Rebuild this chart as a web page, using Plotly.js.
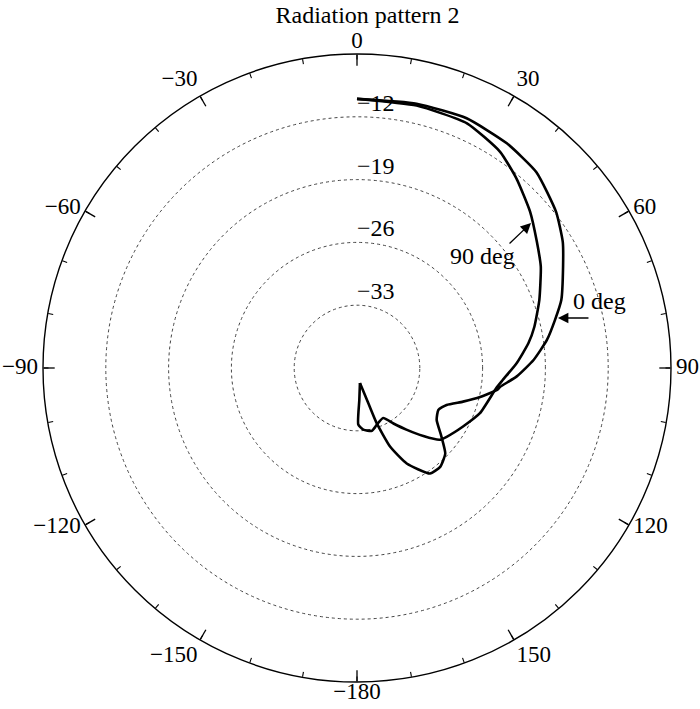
<!DOCTYPE html>
<html>
<head>
<meta charset="utf-8">
<script src="https://cdn.plot.ly/plotly-3.0.1.min.js"></script>
<style>html,body{margin:0;padding:0;background:#fff;}#chart{width:700px;height:709px;}</style>
</head>
<body>
<div id="chart"></div>
<script>
// ---- data ----
const theta0deg = [0, 12.7, 23.7, 33.7, 42.5, 51.9, 58.5, 63.8, 71.6, 76.4, 81.6, 87.4, 93.1, 97.5, 98.9, 103.3, 107.6, 112.4, 117.3, 123.1, 129.0, 134.1, 139.9, 145.3, 152.5, 157.2, 160.4, 162.2, 168.9];
const r0deg     = [-10.0, -9.8, -9.6, -9.9, -10.4, -11.8, -13.1, -14.4, -16.0, -17.3, -18.6, -20.3, -22.2, -23.9, -24.2, -25.9, -27.6, -29.2, -29.8, -29.4, -27.9, -26.3, -25.6, -25.7, -28.0, -30.5, -33.5, -35.9, -38.3];

const theta90deg = [0, 12.8, 24.2, 33.5, 40.1, 47.9, 54.9, 61.1, 69.5, 76.9, 81.8, 88.3, 94.7, 98.1, 110.2, 118.9, 127.5, 131.0, 135.7, 141.3, 146.7, 152.4, 160.9, 166.8, 174.2, 178.7, 175.9, 168.9];
const r90deg     = [-10.0, -10.0, -10.1, -11.1, -12.4, -14.0, -15.5, -16.6, -18.3, -19.7, -20.7, -22.2, -23.7, -24.3, -25.4, -26.5, -27.4, -27.8, -29.4, -31.2, -32.6, -33.7, -33.3, -32.8, -33.1, -33.7, -36.4, -38.3];

const radialRange = [-40, -5];
const ringValues  = [-33, -26, -19, -12];
const ringLabels  = ['\u221233', '\u221226', '\u221219', '\u221212'];

const angleTickVals  = [0, 30, 60, 90, 120, 150, 180, 210, 240, 270, 300, 330];
const angleTickText  = ['0', '30', '60', '90', '120', '150', '\u2212180', '\u2212150', '\u2212120', '\u221290', '\u221260', '\u221230'];
const minorTickVals  = [0,10,20,30,40,50,60,70,80,90,100,110,120,130,140,150,160,170,180,190,200,210,220,230,240,250,260,270,280,290,300,310,320,330,340,350];

const FONT = 'Liberation Serif, Times New Roman, serif';
const FS = 24;
const TICK_FS = 23;

const angleLabelPos = ['top center', 'top right', 'middle right', 'middle right', 'middle right', 'bottom right',
                       'bottom center', 'bottom left', 'middle left', 'middle left', 'middle left', 'top left'];
// label ring (polar3) is slightly larger than the plot ring; straight up/down labels pulled back onto the ring
const angleLabelR = angleLabelPos.map(p => p.endsWith('center') ? radialRange[1] - 0.55 : radialRange[1]);

const plotDomain  = {x: [43/700, 671/700], y: [1 - 682/709, 1 - 54/709]};
const labelDomain = {x: [38/700, 676/700], y: [1 - 687/709, 1 - 49/709]};

const traces = [
  {type: 'scatterpolar', subplot: 'polar', mode: 'lines', name: '90 deg',
   theta: theta90deg, r: r90deg, line: {color: '#000', width: 2.6, shape: 'spline', smoothing: 0.5}, hoverinfo: 'skip'},
  {type: 'scatterpolar', subplot: 'polar', mode: 'lines', name: '0 deg',
   theta: theta0deg, r: r0deg, line: {color: '#000', width: 2.6, shape: 'spline', smoothing: 0.5}, hoverinfo: 'skip'},
  {type: 'scatterpolar', subplot: 'polar', mode: 'text',
   theta: ringValues.map(() => 0), r: ringValues, text: ringLabels,
   textposition: 'top right', textfont: {family: FONT, size: FS, color: '#000'}, hoverinfo: 'skip'},
  {type: 'scatterpolar', subplot: 'polar2', mode: 'markers',
   theta: [0], r: [radialRange[0]], marker: {opacity: 0, size: 1}, hoverinfo: 'skip'},
  {type: 'scatterpolar', subplot: 'polar3', mode: 'text', cliponaxis: false,
   theta: angleTickVals, r: angleLabelR, text: angleTickText,
   textposition: angleLabelPos, textfont: {family: FONT, size: TICK_FS, color: '#000'}, hoverinfo: 'skip'}
];

const hiddenRadial = {range: radialRange, visible: false, showgrid: false};

const layout = {
  width: 700, height: 709,
  paper_bgcolor: '#fff',
  showlegend: false,
  margin: {l: 0, r: 0, t: 0, b: 0},
  font: {family: FONT, color: '#000'},
  title: {text: 'Radiation pattern 2', font: {family: FONT, size: 24, color: '#000'},
          xref: 'container', x: 0.525, xanchor: 'center', yref: 'container', y: 0.979, yanchor: 'middle'},
  polar: {
    domain: plotDomain,
    bgcolor: 'rgba(0,0,0,0)',
    radialaxis: {range: radialRange, tickvals: ringValues, showticklabels: false, ticks: '',
                 showline: false, showgrid: true, gridcolor: '#444', griddash: 'dot', gridwidth: 1},
    angularaxis: {rotation: 90, direction: 'clockwise', tickmode: 'array', tickvals: angleTickVals,
                  showticklabels: false, ticks: 'inside', ticklen: 11, tickwidth: 1.3, tickcolor: '#000',
                  showgrid: false, showline: true, linecolor: '#000', linewidth: 1.4}
  },
  polar2: {
    domain: plotDomain,
    bgcolor: 'rgba(0,0,0,0)',
    radialaxis: hiddenRadial,
    angularaxis: {rotation: 90, direction: 'clockwise', tickmode: 'array', tickvals: minorTickVals,
                  showticklabels: false, ticks: 'inside', ticklen: 5, tickwidth: 1.1, tickcolor: '#000',
                  showgrid: false, showline: false}
  },
  polar3: {
    domain: labelDomain,
    bgcolor: 'rgba(0,0,0,0)',
    radialaxis: hiddenRadial,
    angularaxis: {rotation: 90, direction: 'clockwise', showticklabels: false, ticks: '',
                  showgrid: false, showline: false}
  },
  annotations: [
    {xref: 'paper', yref: 'paper', x: 0.6900, y: 0.6389, xanchor: 'center', yanchor: 'middle',
     text: '90 deg', showarrow: false, font: {family: FONT, size: FS, color: '#000'}},
    {xref: 'paper', yref: 'paper', x: 0.7586, y: 0.6855, text: ' ', showarrow: true,
     ax: -23, ay: 22, arrowhead: 2, arrowsize: 1.6, arrowwidth: 1.3, arrowcolor: '#000', font: {size: 1}},
    {xref: 'paper', yref: 'paper', x: 0.8571, y: 0.5755, xanchor: 'center', yanchor: 'middle',
     text: '0 deg', showarrow: false, font: {family: FONT, size: FS, color: '#000'}},
    {xref: 'paper', yref: 'paper', x: 0.7971, y: 0.5515, text: ' ', showarrow: true,
     ax: 32, ay: 0, arrowhead: 2, arrowsize: 1.6, arrowwidth: 1.3, arrowcolor: '#000', font: {size: 1}}
  ]
};

Plotly.newPlot('chart', traces, layout, {staticPlot: true, displayModeBar: false});
</script>
</body>
</html>
